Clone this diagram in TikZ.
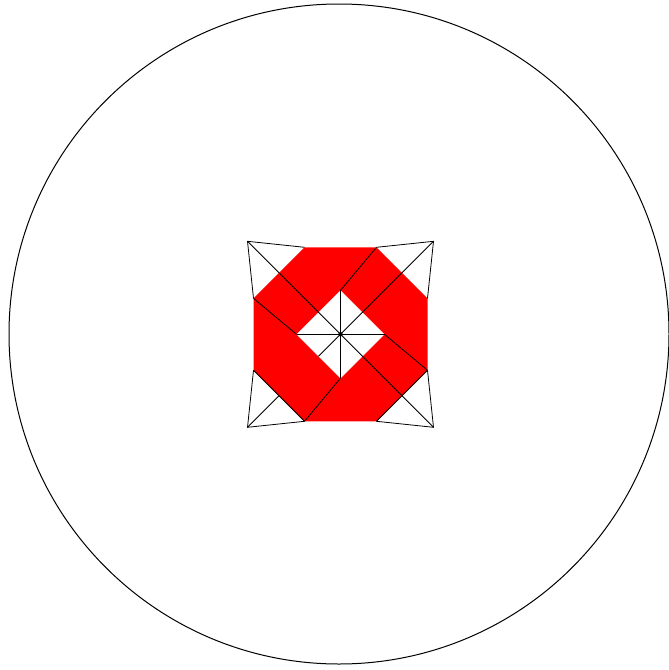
\documentclass[tikz,border=0pt]{standalone}
\definecolor{flagred}{RGB}{255,0,0}
\tikzset{
  thinline/.style={draw=black, line width=0.8pt},
  outline/.style={draw=black, line width=1pt},
}
\begin{document}
\begin{tikzpicture}[x=1pt,y=-1pt]
\useasboundingbox (0,0) rectangle (669,670);
% outer circle
\coordinate (O) at (339,334);
\draw[outline] (O) circle[radius=330];
% centre of the emblem
\begin{scope}[shift={(340.5,334.3)}]
  \coordinate (C) at (0,0);
  % outer corners
  \coordinate (TL) at (-93,-93);
  \coordinate (TR) at (93,-93);
  \coordinate (BR) at (93,93);
  \coordinate (BL) at (-93,93);
  % octagon vertices
  \coordinate (T1) at (-36,-87);
  \coordinate (T2) at (36,-87);
  \coordinate (R1) at (87,-36);
  \coordinate (R2) at (87,36);
  \coordinate (B2) at (36,87);
  \coordinate (B1) at (-36,87);
  \coordinate (L2) at (-87,36);
  \coordinate (L1) at (-87,-36);
  % diamond vertices
  \coordinate (DT) at (0,-44);
  \coordinate (DR) at (44,0);
  \coordinate (DB) at (0,44);
  \coordinate (DL) at (-44,0);
  % points where the lower-left diagonal meets the red band
  \coordinate (BLcut) at (-61.5,61.5);
  \coordinate (BLmid) at (-22,22);
  % red octagon with white diamond hole
  \fill[flagred] (T1) -- (T2) -- (R1) -- (R2) -- (B2) -- (B1) -- (L2) -- (L1) -- cycle;
  \fill[white] (DT) -- (DR) -- (DB) -- (DL) -- cycle;
  % corner triangles
  \draw[thinline] (T1) -- (TL) -- (L1);
  \draw[thinline] (T2) -- (TR) -- (R1);
  \draw[thinline] (R2) -- (BR) -- (B2);
  \draw[thinline] (B1) -- (BL) -- (L2);
  \draw[thinline] (L2) -- (B1);
  \draw[thinline] (R2) -- (B2);
  % corner diagonals
  \draw[thinline] (TL) -- (BR);
  \draw[thinline] (TR) -- (BLmid);
  \draw[thinline] (BLcut) -- (BL);
  % pinwheel lines
  \draw[thinline] (T2) -- (DT);
  \draw[thinline] (R2) -- (DR);
  \draw[thinline] (B1) -- (DB);
  \draw[thinline] (L1) -- (DL);
  % lines inside the diamond
  \draw[thinline] (DT) -- (DB);
  \draw[thinline] (DL) -- (DR);
  \fill[black] (C) circle[radius=2.2];
\end{scope}
\end{tikzpicture}
\end{document}
